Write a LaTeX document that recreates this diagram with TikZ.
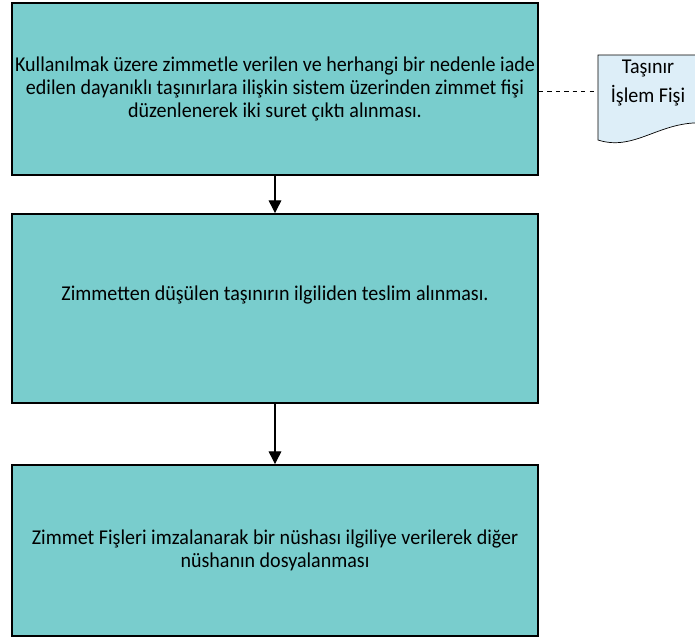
\documentclass[tikz,border=0pt]{standalone}
\usepackage{fontspec}
\setmainfont{Carlito}[FakeStretch=0.95]
\usetikzlibrary{arrows.meta}
\definecolor{adimrenk}{HTML}{79CDCD}
\definecolor{belgerenk}{HTML}{DDEEF8}

\begin{document}
\begin{tikzpicture}[x=0.025cm, y=-0.025cm,
    adim/.style={draw=black, line width=1.3pt, fill=adimrenk, minimum width=13.15cm, align=center, font=\fontsize{15}{16.5}\selectfont, inner sep=0pt},
    akis/.style={-{Triangle[width=9pt,length=9pt]}, line width=0.8pt}]
    \useasboundingbox (0,0) rectangle (695,638);

    % process steps
    \node[adim, minimum height=4.3cm] (zimmet) at (275,89) {
        Kullanılmak üzere zimmetle verilen ve herhangi bir nedenle iade\\
        edilen dayanıklı taşınırlara ilişkin sistem üzerinden zimmet fişi\\
        düzenlenerek iki suret çıktı alınması.
    };
    \node[adim, minimum height=4.725cm] (teslim) at (275,308.5) {
        Zimmetten düşülen taşınırın ilgiliden teslim alınması.\\[6pt]
    };
    \node[adim, minimum height=4.275cm] (dosya) at (275,550.5) {
        Zimmet Fişleri imzalanarak bir nüshası ilgiliye verilerek diğer\\
        nüshanın dosyalanması
    };

    % document shape
    \draw[fill=belgerenk, line width=0.5pt] (598,55) -- (705,55) -- (705,123)
        .. controls (660,120) and (635,152) .. (598,140) -- cycle;
    \node[align=center, font=\fontsize{15}{17}\selectfont] (belge) at (648,83) {Taşınır\\[3pt]İşlem Fişi};
    \coordinate (belgesol) at (598,91);

    % connectors
    \draw[akis] (zimmet) -- (teslim);
    \draw[akis] (teslim) -- (dosya);
    \draw[dashed, line width=0.7pt] (zimmet.east |- belgesol) -- (belgesol);
\end{tikzpicture}
\end{document}
